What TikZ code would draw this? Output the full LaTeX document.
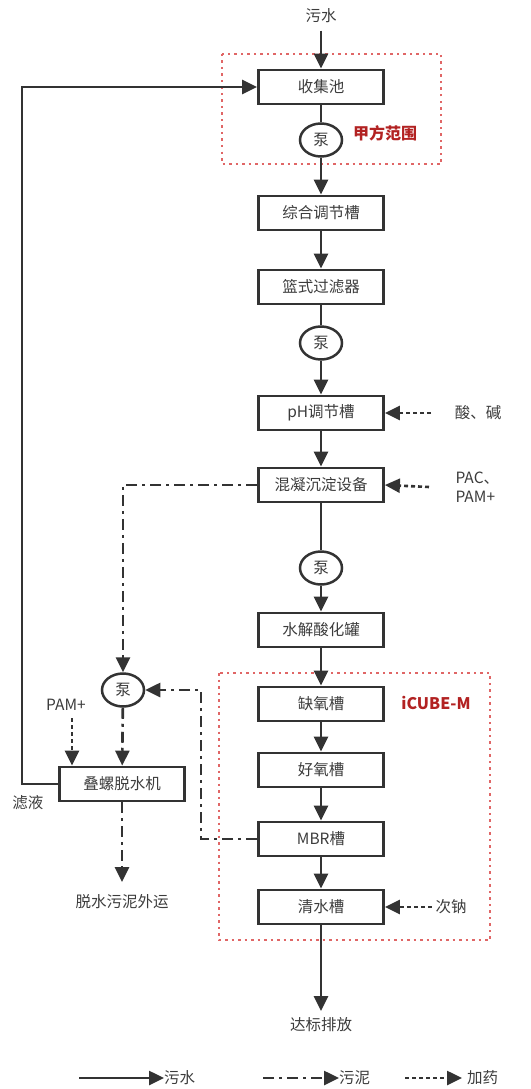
\documentclass[tikz,border=0pt]{standalone}
\usepackage{fontspec}
\setmainfont{Noto Sans CJK SC}
\usetikzlibrary{arrows.meta,shapes.geometric}
\definecolor{ln}{HTML}{333333}
\definecolor{tx}{HTML}{3C3C3C}
\definecolor{rd}{HTML}{E06666}
\definecolor{rdt}{HTML}{B22222}
\begin{document}
\begin{tikzpicture}[x=1pt,y=-1pt,
  every node/.style={font=\fontsize{15.5}{18}\selectfont, text=tx},
  boxn/.style={draw=ln, line width=2.8pt, minimum width=125pt, minimum height=34pt, inner sep=0pt},
  pumpn/.style={draw=ln, line width=2.5pt, ellipse, minimum width=42pt, minimum height=33pt, inner sep=0pt},
  flow/.style={draw=ln, line width=2.6pt},
  tip/.style={-{Triangle[length=15pt,width=14pt]}},
  sludge/.style={flow, dash pattern=on 11pt off 5pt on 3pt off 5pt},
  dose/.style={flow, dash pattern=on 4pt off 3pt},
  scopebox/.style={draw=rd, line width=2.2pt, dash pattern=on 2.5pt off 4pt},
  redlab/.style={font=\fontsize{16}{19}\selectfont\bfseries, text=rdt}
]
\useasboundingbox (0,0) rectangle (530,1089);
% scope boxes
\draw[scopebox] (222,54) rectangle (441,164);
\draw[scopebox] (219,673) rectangle (490,940);
\node[redlab] (jf) at (385,133) {甲方范围};
\node[redlab] (icube) at (436,703) {iCUBE-M};
% main column
\node (src) at (321,16) {污水};
\node[boxn] (collect) at (321,87) {收集池};
\node[pumpn] (p1) at (321,140) {泵};
\node[boxn] (zonghe) at (321,213) {综合调节槽};
\node[boxn] (lanshi) at (321,287) {篮式过滤器};
\node[pumpn] (p2) at (321,343) {泵};
\node[boxn] (ph) at (321,413) {pH调节槽};
\node[boxn] (hun) at (321,485) {混凝沉淀设备};
\node[pumpn] (p3) at (321,568) {泵};
\node[boxn] (shui) at (321,630) {水解酸化罐};
\node[boxn] (que) at (321,704) {缺氧槽};
\node[boxn] (hao) at (321,770) {好氧槽};
\node[boxn] (mbr) at (321,839) {MBR槽};
\node[boxn] (qing) at (321,907) {清水槽};
\coordinate (outend) at (321,1011);
\node (out) at (321,1025) {达标排放};
\draw[flow,tip] (src.south) ++(0,4) -- (collect.north);
\draw[flow] (collect) -- (p1);
\draw[flow,tip] (p1) -- (zonghe);
\draw[flow,tip] (zonghe) -- (lanshi);
\draw[flow] (lanshi) -- (p2);
\draw[flow,tip] (p2) -- (ph);
\draw[flow,tip] (ph) -- (hun);
\draw[flow] (hun) -- (p3);
\draw[flow,tip] (p3) -- (shui);
\draw[flow,tip] (shui) -- (que);
\draw[flow,tip] (que) -- (hao);
\draw[flow,tip] (hao) -- (mbr);
\draw[flow,tip] (mbr) -- (qing);
\draw[flow,tip] (qing) -- (outend);
% chemicals
\node (acid) at (478,413) {酸、碱};
\coordinate (acidS) at (431,413);
\draw[dose,tip] (acidS) -- (ph.east);
\node[align=left, anchor=west, font=\fontsize{15.5}{19}\selectfont] (pac) at (452,487) {PAC、\\PAM+};
\coordinate (pacS) at (429,487);
\draw[dose,tip] (pacS) -- (hun.east);
\node (naclo) at (451,907) {次钠};
\draw[dose,tip] (naclo.west) -- (qing.east);
% sludge line
\node[pumpn] (pL) at (123,690) {泵};
\node[boxn] (dew) at (122,784) {叠螺脱水机};
\node (pam) at (66,705) {PAM+};
\node (filt) at (28,803) {滤液};
\node (cake) at (122,902) {脱水污泥外运};
\coordinate (cakeT) at (122,882);
\coordinate (pamB) at (72,718);
\draw[sludge,tip] (hun.west) -| (pL.north);
\draw[sludge,tip] (mbr.west) -| (201,690) -- (pL.east);
\draw[sludge,tip] (pL) -- (dew);
\draw[sludge,tip] (dew) -- (cakeT);
\draw[dose,tip] (pamB) -- (pamB |- dew.north);
\draw[flow,tip] (dew.west) -| (22,87) -- (collect.west);
% legend
\coordinate (l1a) at (79,1078); \coordinate (l1b) at (164,1078);
\coordinate (l2a) at (263,1078); \coordinate (l2b) at (339,1078);
\coordinate (l3a) at (405,1078); \coordinate (l3b) at (462,1078);
\draw[flow,tip] (l1a) -- (l1b);
\node[anchor=west, inner sep=0pt] (lg1) at (l1b) {污水};
\draw[sludge,tip] (l2a) -- (l2b);
\node[anchor=west, inner sep=0pt] (lg2) at (l2b) {污泥};
\draw[dose,tip] (l3a) -- (l3b);
\node[anchor=west, inner sep=0pt] (lg3) at (467,1078) {加药};
\end{tikzpicture}
\end{document}
